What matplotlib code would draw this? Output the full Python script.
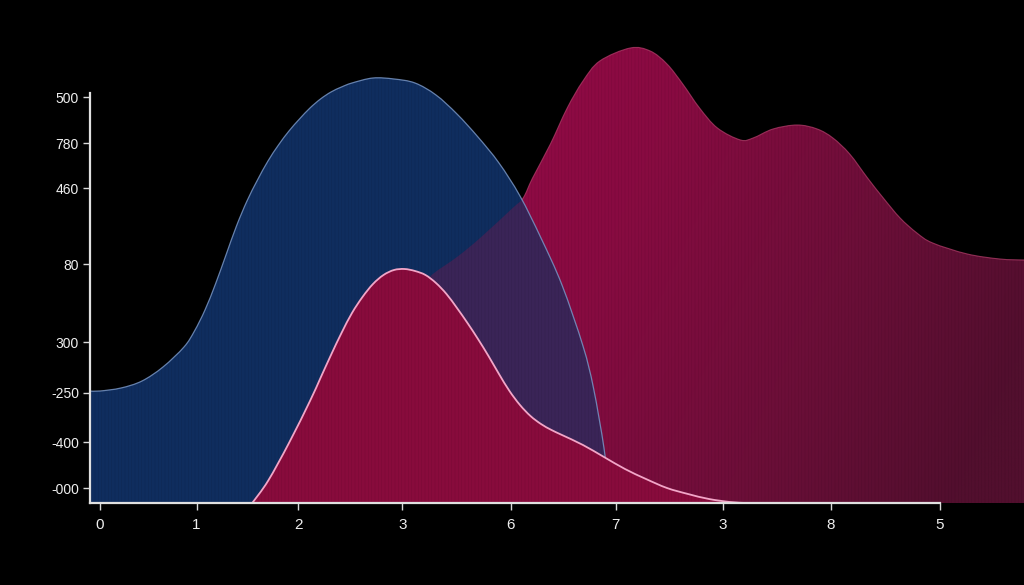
import numpy as np
import matplotlib
matplotlib.use("Agg")
import matplotlib.pyplot as plt
from matplotlib.colors import LinearSegmentedColormap
from matplotlib.path import Path
from matplotlib.patches import PathPatch

plt.rcParams['font.family'] = ['Liberation Sans', 'DejaVu Sans']
plt.rcParams['hatch.linewidth'] = 0.3

# ---- data ----
blue_x = [-0.1, 0.0, 0.2, 0.4, 0.6, 0.8, 0.9, 1.0, 1.1, 1.2, 1.3, 1.4, 1.5, 1.6,
          1.7, 1.8, 1.9, 2.0, 2.1, 2.2, 2.3, 2.4, 2.6, 2.8, 3.0, 3.2, 3.4, 3.6,
          3.8, 4.0, 4.2, 4.4, 4.6, 4.7, 4.8, 4.85, 4.87]
blue_y = [112, 112, 115, 122, 136, 156, 172, 193, 219, 248, 277, 302, 323, 342,
          358, 372, 384, 395, 404, 411, 416, 420, 425, 424, 420, 408, 389, 366,
          340, 307, 265, 218, 157, 115, 55, 10, 0]

small_x = [1.45, 1.6, 1.8, 2.0, 2.1, 2.2, 2.3, 2.4, 2.5, 2.6, 2.7, 2.8, 2.9, 3.0,
           3.1, 3.2, 3.3, 3.4, 3.5, 3.6, 3.7, 3.8, 3.9, 4.0, 4.1, 4.2, 4.3, 4.4,
           4.6, 4.8, 5.0, 5.2, 5.4, 5.6, 5.8, 6.0, 6.15]
small_y = [0, 22, 60, 102, 125, 148, 170, 190, 206, 219, 228, 233, 234, 232,
           228, 220, 209, 195, 180, 164, 147, 129, 112, 98, 87, 79, 73, 68,
           58, 46, 34, 24, 15, 9, 4, 1, 0]

big_x = [1.7, 2.0, 2.4, 2.8, 3.0, 3.17, 3.4, 3.62, 3.93, 4.03, 4.12, 4.29,
         4.45, 4.6, 4.76, 5.05, 5.24, 5.4, 5.55, 5.71, 5.88, 6.1, 6.22, 6.41,
         6.64, 6.83, 6.98, 7.14, 7.31, 7.46, 7.62, 7.78, 7.93, 8.26, 8.57, 8.8, 8.9]
big_y = [0, 60, 140, 192, 212, 229, 246, 265, 295, 305, 325, 359,
         395, 422, 442, 455, 452, 439, 419, 395, 375, 363, 365, 374,
         378, 374, 365, 349, 325, 305, 285, 270, 260, 249, 244, 243, 243]

x_ticks = [0, 0.92, 1.89, 2.88, 3.91, 4.91, 5.93, 6.96, 8.0]
x_labels = ['0', '1', '2', '3', '6', '7', '3', '8', '5']
y_ticks = [15, 61, 110, 161, 239, 315, 360, 406]
y_labels = ['-000', '-400', '-250', '300', '80', '460', '780', '500']


def smooth_path(xs, ys, closed=True):
    """Cubic Bezier path (Catmull-Rom control points) through the read points."""
    P = np.column_stack([xs, ys]).astype(float)
    n = len(P)
    verts = []
    codes = []
    if closed:
        verts.append((P[0, 0], 0.0)); codes.append(Path.MOVETO)
        verts.append(tuple(P[0])); codes.append(Path.LINETO)
    else:
        verts.append(tuple(P[0])); codes.append(Path.MOVETO)
    for i in range(n - 1):
        p0 = P[max(i - 1, 0)]
        p1 = P[i]
        p2 = P[i + 1]
        p3 = P[min(i + 2, n - 1)]
        c1 = p1 + (p2 - p0) / 6.0
        c2 = p2 - (p3 - p1) / 6.0
        verts += [tuple(c1), tuple(c2), tuple(p2)]
        codes += [Path.CURVE4] * 3
    if closed:
        verts.append((P[-1, 0], 0.0)); codes.append(Path.LINETO)
        verts.append((P[0, 0], 0.0)); codes.append(Path.CLOSEPOLY)
    return Path(verts, codes)


def stripes(ax, path, z, alpha=0.13):
    ax.add_patch(PathPatch(path, facecolor='none', edgecolor=(0, 0, 0, alpha), lw=0,
                           hatch='|||||', zorder=z))


# ---- figure ----
fig = plt.figure(figsize=(10.24, 5.85), dpi=100, facecolor='black')
ax = fig.add_axes([90 / 1024, 82 / 585, 934 / 1024, 503 / 585])
ax.set_facecolor('black')

XMIN, XMAX, YMIN, YMAX = -0.095, 8.8, 0, 503

big_path = smooth_path(big_x, big_y)
blue_path = smooth_path(blue_x, blue_y)
small_path = smooth_path(small_x, small_y)

# big red area with gradient
big_patch = PathPatch(big_path, facecolor='none', edgecolor='none', zorder=1)
ax.add_patch(big_patch)
cmap = LinearSegmentedColormap.from_list('rd', ['#940a46', '#880b41', '#6e0e39', '#520f2e'])
gx = np.linspace(0, 1, 256)
gy = np.linspace(0, 1, 64)
GX, GY = np.meshgrid(gx, gy)
grad = np.clip(GX * 0.8 + GY * 0.3, 0, 1)
im = ax.imshow(grad, extent=[3.5, XMAX, 460, 0], origin='lower', aspect='auto',
               cmap=cmap, vmin=0, vmax=1, zorder=1, interpolation='bilinear')
im.set_clip_path(big_patch)
stripes(ax, big_path, 1.2)
ax.add_patch(PathPatch(smooth_path(big_x, big_y, closed=False), facecolor='none',
                       edgecolor='#b8406e', lw=0.8, alpha=0.7, zorder=1.5))

# blue area
blue_patch = PathPatch(blue_path, facecolor='#0f2d5e', edgecolor='none', zorder=2)
ax.add_patch(blue_patch)
# overlap of blue and big red
ov = PathPatch(big_path, facecolor='#3a2457', edgecolor='none', zorder=2.1)
ax.add_patch(ov)
ov.set_clip_path(blue_patch)
stripes(ax, blue_path, 2.2)
ax.add_patch(PathPatch(smooth_path(blue_x, blue_y, closed=False), facecolor='none',
                       edgecolor='#7e9ccc', lw=0.9, alpha=0.8, zorder=2.5))

# small red area
ax.add_patch(PathPatch(small_path, facecolor='#880b3c', edgecolor='none', zorder=3))
stripes(ax, small_path, 3.2)
ax.add_patch(PathPatch(smooth_path(small_x, small_y, closed=False), facecolor='none',
                       edgecolor='#f2a6c8', lw=1.3, zorder=3.5))

ax.set_xlim(XMIN, XMAX)
ax.set_ylim(YMIN, YMAX)

# axes styling
for s in ['top', 'right']:
    ax.spines[s].set_visible(False)
for s in ['left', 'bottom']:
    ax.spines[s].set_color('#e0e0e0')
    ax.spines[s].set_linewidth(1.6)
    ax.spines[s].set_zorder(5)
ax.spines['left'].set_bounds(0, 410)
ax.spines['bottom'].set_bounds(XMIN, 8)

ax.set_xticks(x_ticks)
ax.set_xticklabels(x_labels)
ax.set_yticks(y_ticks)
ax.set_yticklabels(y_labels)
ax.tick_params(colors='#d8d8d8', labelcolor='#eeeeee', length=5, width=1.0, labelsize=10)
ax.tick_params(axis='x', pad=6, labelsize=11)
ax.tick_params(axis='y', pad=3)

fig.savefig('out.png', dpi=100, facecolor='black')
